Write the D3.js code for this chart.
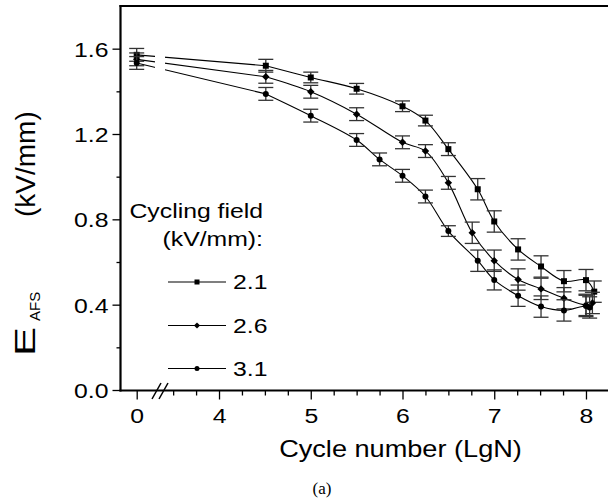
<!DOCTYPE html>
<html><head><meta charset="utf-8">
<script src="https://cdn.jsdelivr.net/npm/d3@7"></script>
<style>html,body{margin:0;padding:0;background:#fff}svg{display:block}</style>
</head><body><svg id="c" width="608" height="499"></svg>
<script>
// ---- data ----
const seriesNames = ["2.1", "2.6", "3.1"];
const x21 = [0, 4.51, 5.0, 5.5, 6.0, 6.25, 6.5, 6.82, 7.0, 7.26, 7.51, 7.76, 8.0, 8.09];
const v21 = [1.571, 1.520, 1.465, 1.412, 1.330, 1.263, 1.129, 0.941, 0.790, 0.659, 0.579, 0.510, 0.515, 0.461];
const e21 = [0.03, 0.03, 0.025, 0.025, 0.025, 0.025, 0.03, 0.05, 0.05, 0.05, 0.05, 0.05, 0.05, 0.05];
const x26 = [0, 4.51, 5.0, 5.5, 6.0, 6.25, 6.5, 6.76, 7.0, 7.26, 7.51, 7.76, 8.0, 8.07];
const v26 = [1.550, 1.468, 1.398, 1.293, 1.161, 1.120, 0.971, 0.737, 0.606, 0.518, 0.474, 0.430, 0.399, 0.408];
const e26 = [0.03, 0.03, 0.03, 0.03, 0.03, 0.03, 0.03, 0.05, 0.05, 0.05, 0.05, 0.05, 0.05, 0.05];
const x31 = [0, 4.51, 5.0, 5.5, 5.75, 6.0, 6.25, 6.5, 6.82, 7.0, 7.26, 7.51, 7.76, 8.0, 8.04];
const v31 = [1.533, 1.388, 1.286, 1.172, 1.081, 1.004, 0.907, 0.745, 0.606, 0.516, 0.442, 0.391, 0.373, 0.394, 0.387];
const e31 = [0.03, 0.03, 0.03, 0.03, 0.03, 0.03, 0.03, 0.025, 0.05, 0.047, 0.05, 0.05, 0.05, 0.05, 0.05];
const xMajorTicks = [0, 4, 5, 6, 7, 8];
const yMajorTicks = [0, 0.4, 0.8, 1.2, 1.6];
const yMinorTicks = [0.2, 0.6, 1.0, 1.4];
const xTitle = "Cycle number (LgN)";
const yTitleMain = "E", yTitleSub = "AFS", yTitleUnit = "(kV/mm)";
const legendTitle = ["Cycling field", "(kV/mm):"];
const caption = "(a)";

// ---- layout ----
const FONT = "'Liberation Sans', Arial, Helvetica, sans-serif";
const SX = 1.18; // horizontal stretch of the original lettering
const svg = d3.select("#c");
const pL = 120.5, pT = 6, pB = 390.5, pR = 608;
const x = d3.scaleLinear().domain([0, 3.3, 8.24]).range([136.7, 154.8, 608]);
const y = d3.scaleLinear().domain([0, 1.8]).range([390, 6]);
const xMinorTicks = d3.range(3.5, 8.2, 0.25).filter(t => Math.abs(t - Math.round(t)) > 1e-6);

function stretchText(sel, ox) {
  sel.attr("transform", `scale(${SX},1)`).attr("x", ox / SX);
}

// axes
const gx = svg.append("g").attr("transform", `translate(0,${pB})`);
gx.call(d3.axisBottom(x).tickValues(xMajorTicks).tickSize(9).tickPadding(5).tickFormat(d3.format("d")));
gx.select(".domain").remove();
gx.selectAll("line").attr("stroke", "#000").attr("stroke-width", 1.3);
gx.selectAll("text").attr("font-family", FONT).attr("font-size", 21).attr("fill", "#000")
  .attr("transform", `scale(${SX},1)`).attr("dy", "0.95em").attr("y", 13);
const gxm = svg.append("g").attr("transform", `translate(0,${pB})`);
gxm.call(d3.axisBottom(x).tickValues(xMinorTicks).tickSize(5).tickFormat(""));
gxm.select(".domain").remove();
gxm.selectAll("line").attr("stroke", "#000").attr("stroke-width", 1.3);

const gy = svg.append("g").attr("transform", `translate(${pL},0)`);
gy.call(d3.axisLeft(y).tickValues(yMajorTicks).tickSize(8).tickFormat(d3.format(".1f")));
gy.select(".domain").remove();
gy.selectAll("line").attr("stroke", "#000").attr("stroke-width", 1.3);
gy.selectAll("text").attr("font-family", FONT).attr("font-size", 21).attr("fill", "#000")
  .attr("transform", `scale(${SX},1)`).attr("x", -12 / SX).attr("dy", "0.36em");
const gym = svg.append("g").attr("transform", `translate(${pL},0)`);
gym.call(d3.axisLeft(y).tickValues(yMinorTicks).tickSize(4).tickFormat(""));
gym.select(".domain").remove();
gym.selectAll("line").attr("stroke", "#000").attr("stroke-width", 1.3);

// frame lines
svg.append("line").attr("x1", pL).attr("x2", pL).attr("y1", pT - 1).attr("y2", pB + 1)
  .attr("stroke", "#000").attr("stroke-width", 2.2);
svg.append("line").attr("x1", pL - 1).attr("x2", pR).attr("y1", pB).attr("y2", pB)
  .attr("stroke", "#000").attr("stroke-width", 2);
svg.append("line").attr("x1", pL - 1).attr("x2", pR).attr("y1", pT).attr("y2", pT)
  .attr("stroke", "#000").attr("stroke-width", 2.2);
// axis break marks
[0, 7].forEach(dx => {
  svg.append("line").attr("x1", 152 + dx).attr("y1", 399).attr("x2", 161 + dx).attr("y2", 383)
    .attr("stroke", "#000").attr("stroke-width", 1.5);
});

// clip with gap at the break
const defs = svg.append("defs");
const cp = defs.append("clipPath").attr("id", "gap");
cp.append("rect").attr("x", pL).attr("y", 0).attr("width", 155 - pL).attr("height", 400);
cp.append("rect").attr("x", 165).attr("y", 0).attr("width", pR - 165).attr("height", 400);

const series = [
  {name: seriesNames[0], xs: x21, vs: v21, es: e21, shape: "square"},
  {name: seriesNames[1], xs: x26, vs: v26, es: e26, shape: "diamond"},
  {name: seriesNames[2], xs: x31, vs: v31, es: e31, shape: "circle"}
];

function marker(g, shape, cx, cy, s) {
  if (shape === "square") {
    g.append("rect").attr("x", cx - s / 2).attr("y", cy - s / 2).attr("width", s).attr("height", s).attr("fill", "#000");
  } else if (shape === "diamond") {
    const h = s * 0.62;
    g.append("path").attr("d", `M${cx},${cy - h}L${cx + h},${cy}L${cx},${cy + h}L${cx - h},${cy}Z`).attr("fill", "#000");
  } else {
    g.append("circle").attr("cx", cx).attr("cy", cy).attr("r", s / 2).attr("fill", "#000");
  }
}

const plot = svg.append("g");
const curve = d3.line().x(d => x(d[0])).y(d => y(d[1])).curve(d3.curveCatmullRom.alpha(0.5));
series.forEach(s => {
  const pts = s.xs.map((xv, i) => [xv, s.vs[i], s.es[i]]);
  plot.append("line").attr("clip-path", "url(#gap)")
    .attr("x1", x(pts[0][0])).attr("y1", y(pts[0][1]))
    .attr("x2", x(pts[1][0])).attr("y2", y(pts[1][1]))
    .attr("stroke", "#000").attr("stroke-width", 1.1);
  plot.append("path").attr("d", curve(pts.slice(1))).attr("fill", "none")
    .attr("stroke", "#000").attr("stroke-width", 1.1);
  const eb = plot.append("g").attr("stroke", "#333").attr("stroke-width", 1.3);
  pts.forEach(p => {
    const cx = x(p[0]), y1 = y(p[1] - p[2]), y2 = y(p[1] + p[2]);
    eb.append("line").attr("x1", cx).attr("x2", cx).attr("y1", y1).attr("y2", y2);
    eb.append("line").attr("x1", cx - 7.5).attr("x2", cx + 7.5).attr("y1", y1).attr("y2", y1);
    eb.append("line").attr("x1", cx - 7.5).attr("x2", cx + 7.5).attr("y1", y2).attr("y2", y2);
  });
  const mk = plot.append("g");
  pts.forEach(p => marker(mk, s.shape, x(p[0]), y(p[1]), 6));
});

// legend
const lg = svg.append("g");
const t1 = lg.append("text").attr("font-family", FONT).attr("font-size", 21).attr("text-anchor", "end")
  .attr("y", 218).text(legendTitle[0]);
stretchText(t1, 263);
const t2 = lg.append("text").attr("font-family", FONT).attr("font-size", 21).attr("text-anchor", "end")
  .attr("y", 246).text(legendTitle[1]);
stretchText(t2, 263);
const legY = [282, 325.5, 368.5];
series.forEach((s, i) => {
  lg.append("line").attr("x1", 168).attr("x2", 226).attr("y1", legY[i]).attr("y2", legY[i])
    .attr("stroke", "#000").attr("stroke-width", 1.1);
  marker(lg, s.shape, 197, legY[i], 5);
  const t = lg.append("text").attr("font-family", FONT).attr("font-size", 21).attr("text-anchor", "start")
    .attr("y", legY[i] + 7.5).text(s.name);
  stretchText(t, 233);
});

// axis titles
const xt = svg.append("text").attr("font-family", FONT).attr("font-size", 23).attr("text-anchor", "middle")
  .attr("y", 457).text(xTitle);
stretchText(xt, 400.5);

// y title: "E" (wide lettering) + subscript, then the unit further up
svg.append("text").attr("font-family", FONT).attr("font-size", 29).attr("text-anchor", "start")
  .attr("transform", "translate(35,356) rotate(-90) scale(1.5,1)").text(yTitleMain);
svg.append("text").attr("font-family", FONT).attr("font-size", 15).attr("text-anchor", "start")
  .attr("transform", "translate(40,321) rotate(-90)").text(yTitleSub);
svg.append("text").attr("font-family", FONT).attr("font-size", 28).attr("text-anchor", "start")
  .attr("transform", "translate(35,217) rotate(-90)").text(yTitleUnit);

svg.append("text").attr("font-family", "'Liberation Serif', 'Times New Roman', serif").attr("font-size", 17)
  .attr("text-anchor", "middle").attr("x", 322).attr("y", 494).text(caption);
</script></body></html>
